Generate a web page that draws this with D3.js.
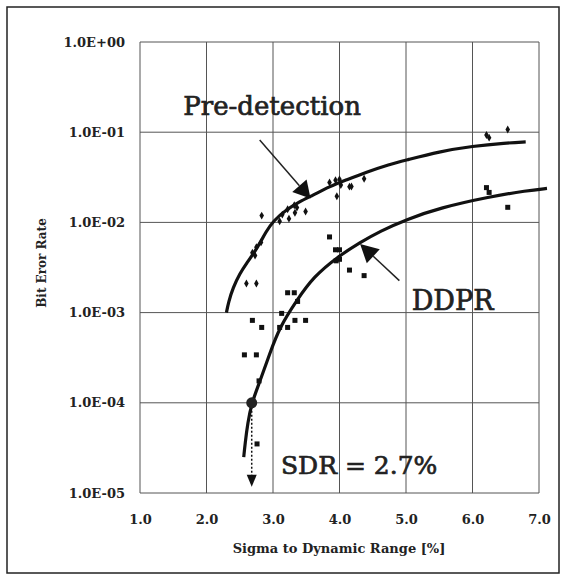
<!DOCTYPE html>
<html>
<head>
<meta charset="utf-8">
<script src="https://cdn.jsdelivr.net/npm/d3@7"></script>
<style>
  html, body { margin: 0; padding: 0; background: #fff; }
  svg { display: block; }
</style>
</head>
<body>
<svg id="chart" width="566" height="580"></svg>
<script>
// ---------- data ----------
const xTicks = [1, 2, 3, 4, 5, 6, 7];
const xTickLabels = ["1.0", "2.0", "3.0", "4.0", "5.0", "6.0", "7.0"];
const yTicks = [1, 1e-1, 1e-2, 1e-3, 1e-4, 1e-5];
const yTickLabels = ["1.0E+00", "1.0E-01", "1.0E-02", "1.0E-03", "1.0E-04", "1.0E-05"];

// Pre-detection measured points (diamonds)
const preX = [2.60, 2.75, 2.83, 2.69, 2.73, 2.75, 2.82, 3.10, 3.14, 3.22, 3.24, 3.32, 3.36, 3.33, 3.49, 3.85, 3.94, 4.00, 3.96, 4.02, 4.15, 4.18, 4.37, 6.21, 6.25, 6.53];
const preY = [2.1e-3, 2.1e-3, 1.19e-2, 4.6e-3, 4.3e-3, 5.3e-3, 6.0e-3, 1.03e-2, 1.22e-2, 1.4e-2, 1.1e-2, 1.55e-2, 1.46e-2, 1.28e-2, 1.32e-2, 2.77e-2, 2.94e-2, 3.0e-2, 1.95e-2, 2.6e-2, 2.49e-2, 2.5e-2, 3.05e-2, 9.3e-2, 8.7e-2, 1.07e-1];

// DDPR measured points (squares)
const ddprX = [2.57, 2.75, 2.69, 2.83, 2.79, 2.76, 3.22, 3.32, 3.13, 3.10, 3.22, 3.33, 3.49, 3.37, 3.85, 3.94, 4.00, 3.95, 4.00, 4.15, 4.37, 6.21, 6.25, 6.53];
const ddprY = [3.4e-4, 3.4e-4, 8.2e-4, 6.85e-4, 1.75e-4, 3.5e-5, 1.66e-3, 1.66e-3, 9.8e-4, 6.85e-4, 6.85e-4, 8.2e-4, 8.2e-4, 1.33e-3, 6.9e-3, 4.97e-3, 4.97e-3, 3.75e-3, 3.9e-3, 2.96e-3, 2.57e-3, 2.43e-2, 2.15e-2, 1.47e-2];

// fitted trend curves
const preFitX = [2.30, 2.33, 2.40, 2.50, 2.60, 2.75, 2.90, 3.00, 3.20, 3.40, 3.60, 3.85, 4.10, 4.40, 4.75, 5.00, 5.50, 6.00, 6.50, 6.80];
const preFitY = [1.0e-3, 1.3e-3, 1.9e-3, 2.7e-3, 3.5e-3, 5.0e-3, 8.0e-3, 1.03e-2, 1.38e-2, 1.7e-2, 2.0e-2, 2.5e-2, 2.95e-2, 3.6e-2, 4.4e-2, 4.9e-2, 6.1e-2, 7.0e-2, 7.6e-2, 7.8e-2];
const ddprFitX = [2.56, 2.58, 2.62, 2.68, 2.80, 2.95, 3.10, 3.36, 3.61, 3.98, 4.31, 4.61, 5.01, 5.51, 6.26, 6.82, 7.12];
const ddprFitY = [2.5e-5, 3.5e-5, 6.0e-5, 1.0e-4, 1.7e-4, 3.5e-4, 6.9e-4, 1.38e-3, 2.5e-3, 4.2e-3, 6.0e-3, 8.0e-3, 1.08e-2, 1.45e-2, 1.93e-2, 2.25e-2, 2.38e-2];

// SDR operating point
const sdrX = 2.68, sdrY = 1e-4;

// ---------- layout ----------
const svg = d3.select("#chart");
const plot = { left: 140, right: 539, top: 42, bottom: 493 };
const x = d3.scaleLinear().domain([1, 7]).range([plot.left, plot.right]);
const y = d3.scaleLog().domain([1e-5, 1]).range([plot.bottom, plot.top]);
const serif = "'DejaVu Serif', 'Liberation Serif', serif";

// outer frame
svg.append("rect").attr("x", 7).attr("y", 7).attr("width", 552).attr("height", 566)
  .attr("fill", "#fff").attr("stroke", "#222").attr("stroke-width", 1.5);

// grid
const grid = svg.append("g");
grid.selectAll("line.v").data(xTicks).join("line")
  .attr("x1", d => x(d)).attr("x2", d => x(d))
  .attr("y1", plot.top).attr("y2", plot.bottom)
  .attr("stroke", "#555").attr("stroke-width", 1);
grid.selectAll("line.h").data(yTicks).join("line")
  .attr("x1", plot.left).attr("x2", plot.right)
  .attr("y1", d => y(d)).attr("y2", d => y(d))
  .attr("stroke", "#555").attr("stroke-width", 1);

// axes labels
const xAxis = d3.axisBottom(x).tickValues(xTicks).tickSize(0).tickPadding(22)
  .tickFormat((d, i) => xTickLabels[i]);
const gx = svg.append("g").attr("transform", `translate(0,${plot.bottom})`).call(xAxis);
gx.select(".domain").remove();
gx.selectAll("text").attr("font-family", serif).attr("font-size", 13)
  .attr("font-weight", "bold").attr("fill", "#222");

const yAxis = d3.axisLeft(y).tickValues(yTicks).tickSize(0).tickPadding(15)
  .tickFormat((d, i) => yTickLabels[i]);
const gy = svg.append("g").attr("transform", `translate(${plot.left},0)`).call(yAxis);
gy.select(".domain").remove();
gy.selectAll("text").attr("font-family", serif).attr("font-size", 13)
  .attr("font-weight", "bold").attr("fill", "#222");

// axis titles
svg.append("text").attr("x", 339).attr("y", 553).attr("text-anchor", "middle")
  .attr("font-family", serif).attr("font-size", 13).attr("font-weight", "bold").attr("fill", "#222")
  .text("Sigma to Dynamic Range [%]");
svg.append("text").attr("transform", "translate(46,263) rotate(-90)").attr("text-anchor", "middle")
  .attr("font-family", serif).attr("font-size", 12).attr("font-weight", "bold").attr("fill", "#222")
  .text("Bit Eror Rate");

// curves
const line = d3.line().x(d => x(d[0])).y(d => y(d[1])).curve(d3.curveBasis);
svg.append("path").datum(d3.zip(preFitX, preFitY)).attr("d", line)
  .attr("fill", "none").attr("stroke", "#111").attr("stroke-width", 3.2);
svg.append("path").datum(d3.zip(ddprFitX, ddprFitY)).attr("d", line)
  .attr("fill", "none").attr("stroke", "#111").attr("stroke-width", 3.2);

// markers
svg.append("g").selectAll("path").data(d3.zip(preX, preY)).join("path")
  .attr("transform", d => `translate(${x(d[0])},${y(d[1])})`)
  .attr("d", d3.symbol(d3.symbolDiamond, 18)())
  .attr("fill", "#111");
svg.append("g").selectAll("rect").data(d3.zip(ddprX, ddprY)).join("rect")
  .attr("x", d => x(d[0]) - 2.5).attr("y", d => y(d[1]) - 2.5)
  .attr("width", 5).attr("height", 5).attr("fill", "#111");

// arrows
function arrow(x1, y1, x2, y2, len, half) {
  const ang = Math.atan2(y2 - y1, x2 - x1);
  const bx = x2 - len * Math.cos(ang), by = y2 - len * Math.sin(ang);
  svg.append("line").attr("x1", x1).attr("y1", y1).attr("x2", bx).attr("y2", by)
    .attr("stroke", "#222").attr("stroke-width", 1.5);
  const px = -Math.sin(ang) * half, py = Math.cos(ang) * half;
  svg.append("path")
    .attr("d", `M${x2},${y2}L${bx + px},${by + py}L${bx - px},${by - py}Z`)
    .attr("fill", "#111");
}
arrow(x(2.80), y(8.2e-2), x(3.565), y(1.84e-2), 17, 9.5);
arrow(x(4.90), y(2.26e-3), x(4.31), y(5.76e-3), 18, 9.5);

// SDR point and dotted drop line
const tipY = y(1.17e-5);
svg.append("line").attr("x1", x(sdrX)).attr("x2", x(sdrX))
  .attr("y1", y(sdrY)).attr("y2", tipY - 11)
  .attr("stroke", "#111").attr("stroke-width", 1.5).attr("stroke-dasharray", "2,2");
svg.append("path")
  .attr("d", `M${x(sdrX)},${tipY}L${x(sdrX) - 5},${tipY - 12}L${x(sdrX) + 5},${tipY - 12}Z`)
  .attr("fill", "#111");
svg.append("circle").attr("cx", x(sdrX)).attr("cy", y(sdrY)).attr("r", 5.5).attr("fill", "#222");

// annotation labels (slightly heavier, like the original)
function label(tx, ty, size, s) {
  svg.append("text").attr("x", tx).attr("y", ty)
    .attr("font-family", serif).attr("font-size", size).attr("fill", "#222")
    .attr("stroke", "#222").attr("stroke-width", 0.7)
    .text(s);
}
label(x(1.65), y(0.155), 26, "Pre-detection");
label(x(5.086), y(1.08e-3), 27, "DDPR");
label(x(3.12), y(1.64e-5), 25, "SDR = 2.7%");
</script>
</body>
</html>
